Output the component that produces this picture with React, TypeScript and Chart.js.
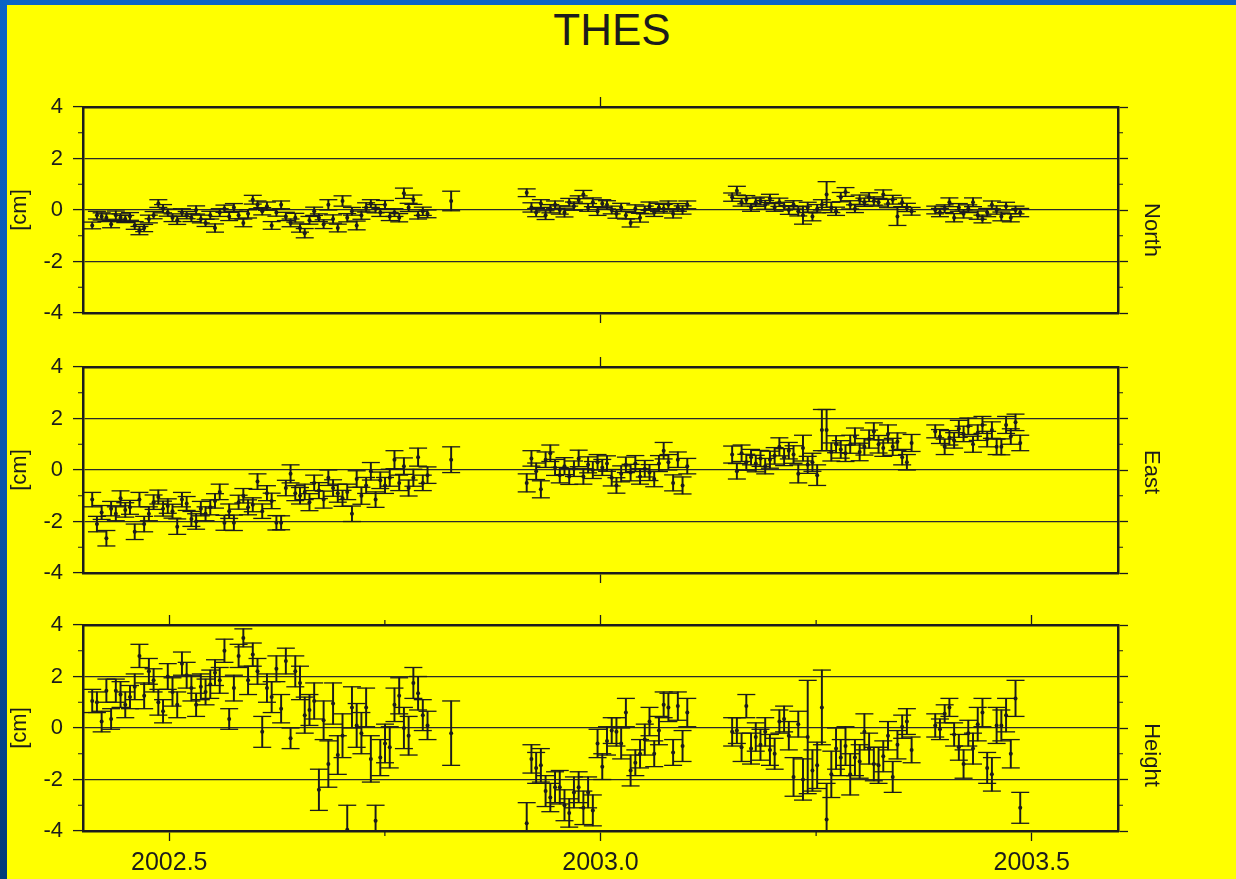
import React, { useEffect, useRef } from 'react';
import { Chart, registerables } from 'chart.js';

Chart.register(...registerables);

// ---------------- data ----------------
const chartTitle = 'THES';
const unitLabel = '[cm]';
const componentNames = ['North', 'East', 'Height'];

// epoch = 2002 + day / 365.25
const days = [
  // segment A
  150, 152, 154, 156, 158, 160, 162, 164, 166, 168, 170, 172,
  174, 176, 178, 180, 182, 184, 186, 188, 190, 192, 194, 196,
  198, 200, 202, 204, 206, 208, 210, 212, 214, 216, 218, 220,
  222, 224, 226, 228, 230, 232, 234, 236, 238, 240, 242, 244,
  246, 248, 250, 252, 254, 256, 258, 260, 262, 264, 266, 268,
  270, 272, 274, 276, 278, 280, 282, 284, 286, 288, 290, 292,
  // isolated
  302,
  // segment B
  334, 336, 338, 340, 342, 344, 346, 348, 350, 352, 354, 356,
  358, 360, 362, 364, 366, 368, 370, 372, 374, 376, 378, 380,
  382, 384, 386, 388, 390, 392, 394, 396, 398, 400, 402,
  // segment C
  421, 423, 425, 427, 429, 431, 433, 435, 437, 439, 441, 443,
  445, 447, 449, 451, 453, 455, 457, 459, 461, 463, 465, 467,
  469, 471, 473, 475, 477, 479, 481, 483, 485, 487, 489, 491,
  493, 495, 497,
  // segment D
  507, 509, 511, 513, 515, 517, 519, 521, 523, 525, 527, 529,
  531, 533, 535, 537, 539, 541, 543,
];

const north = [
  -0.6, -0.2, -0.25, -0.3, -0.55, -0.2, -0.3, -0.35, -0.25, -0.6, -0.8, -0.7,
  -0.35, -0.2, 0.25, 0.05, -0.1, -0.3, -0.4, -0.1, -0.2, -0.3, 0.0, -0.35,
  -0.5, -0.2, -0.7, -0.1, 0.05, -0.25, 0.1, -0.2, -0.5, -0.15, 0.4, 0.2,
  -0.05, 0.15, -0.6, -0.1, 0.2, -0.25, -0.5, -0.3, -0.7, -0.9, -0.4, -0.05,
  -0.3, -0.55, 0.2, -0.35, -0.7, 0.35, -0.3, -0.05, -0.6, -0.2, 0.1, 0.25,
  0.05, -0.1, 0.2, -0.25, -0.1, -0.3, 0.65, 0.1, 0.4, -0.2, -0.05, -0.15,
  0.35,
  0.67, 0.1, -0.1, 0.25, -0.2, 0.05, 0.2, 0.0, -0.1, 0.3, 0.15, 0.4,
  0.6, 0.1, 0.3, -0.05, 0.25, 0.2, 0.0, -0.15, 0.1, -0.2, -0.5, 0.05,
  -0.3, 0.0, 0.15, -0.1, 0.1, 0.05, 0.2, -0.15, 0.1, 0.0, 0.2,
  0.5, 0.75, 0.3, 0.4, 0.1, 0.3, 0.35, 0.2, 0.45, 0.1, 0.3, 0.15,
  0.0, 0.2, -0.05, -0.2, 0.1, -0.25, 0.05, 0.2, 0.6, 0.1, -0.05, 0.5,
  0.7, 0.2, 0.05, 0.4, 0.3, 0.5, 0.35, 0.3, 0.6, 0.25, 0.4, -0.25,
  0.3, 0.1, -0.05,
  0.0, -0.1, 0.05, 0.3, -0.3, 0.1, -0.15, 0.05, 0.3, -0.2, -0.35, -0.1,
  0.2, 0.0, -0.25, 0.15, -0.3, 0.0, -0.1,
];

const northErr = [
  0.13, 0.15, 0.14, 0.15, 0.14, 0.16, 0.15, 0.14, 0.15, 0.15, 0.16, 0.14,
  0.15, 0.14, 0.15, 0.16, 0.14, 0.15, 0.16, 0.15, 0.14, 0.15, 0.16, 0.15,
  0.14, 0.15, 0.16, 0.15, 0.14, 0.16, 0.15, 0.14, 0.15, 0.16, 0.17, 0.15,
  0.14, 0.16, 0.15, 0.14, 0.15, 0.16, 0.15, 0.17, 0.16, 0.18, 0.15, 0.16,
  0.15, 0.17, 0.2, 0.16, 0.15, 0.2, 0.16, 0.15, 0.17, 0.16, 0.18, 0.15,
  0.16, 0.15, 0.17, 0.16, 0.15, 0.16, 0.2, 0.16, 0.18, 0.15, 0.16, 0.15,
  0.38,
  0.15, 0.18, 0.16, 0.15, 0.17, 0.16, 0.15, 0.16, 0.17, 0.15, 0.16, 0.15,
  0.16, 0.15, 0.17, 0.16, 0.15, 0.16, 0.15, 0.17, 0.16, 0.15, 0.16, 0.15,
  0.17, 0.15, 0.16, 0.15, 0.16, 0.17, 0.15, 0.16, 0.15, 0.16, 0.15,
  0.16, 0.17, 0.15, 0.16, 0.15, 0.16, 0.15, 0.17, 0.16, 0.15, 0.16, 0.15,
  0.17, 0.16, 0.18, 0.35, 0.2, 0.17, 0.16, 0.2, 0.5, 0.2, 0.16, 0.18,
  0.17, 0.16, 0.15, 0.18, 0.16, 0.17, 0.16, 0.15, 0.18, 0.16, 0.17, 0.35,
  0.17, 0.16, 0.15,
  0.15, 0.16, 0.15, 0.17, 0.16, 0.15, 0.16, 0.15, 0.17, 0.16, 0.15, 0.16,
  0.15, 0.16, 0.17, 0.15, 0.16, 0.15, 0.16,
];

const east = [
  -1.15, -2.1, -1.65, -2.65, -1.5, -1.7, -1.1, -1.55, -1.45, -2.4, -1.15, -2.1,
  -1.7, -1.25, -1.05, -1.5, -1.4, -1.6, -2.2, -1.15, -1.3, -1.9, -2.0, -1.5,
  -1.7, -1.45, -1.2, -0.85, -2.05, -1.6, -2.05, -1.25, -1.0, -1.45, -1.35, -0.45,
  -1.6, -0.9, -1.2, -2.05, -2.05, -0.7, -0.15, -0.9, -1.0, -0.85, -1.25, -0.5,
  -0.8, -1.15, -0.3, -0.7, -0.9, -1.1, -0.85, -1.7, -0.35, -1.0, -0.6, -0.05,
  -1.15, -0.4, -0.6, -0.3, 0.4, -0.5, 0.15, -0.7, -0.3, 0.5, -0.5, -0.2,
  0.4,
  -0.5, 0.45, -0.05, -0.75, 0.4, 0.65, 0.1, -0.2, 0.15, -0.25, 0.05, 0.45,
  -0.25, 0.2, 0.0, 0.3, 0.1, 0.25, -0.3, -0.6, -0.15, 0.2, -0.1, 0.25,
  -0.25, 0.05, -0.1, -0.35, 0.25, 0.75, 0.3, -0.5, 0.4, -0.6, 0.15,
  0.6, -0.05, 0.65, 0.3, 0.5, 0.25, 0.45, 0.15, 0.4, 0.55, 0.9, 0.5,
  0.75, 0.6, -0.15, 0.85, 0.2, 0.3, -0.2, 1.55, 1.55, 0.7, 1.0, 0.8,
  0.65, 1.0, 1.3, 0.7, 0.9, 1.2, 1.5, 1.0, 0.85, 1.4, 0.9, 1.1,
  0.5, 0.3, 1.05,
  1.5, 1.3, 0.9, 1.25, 1.15, 1.6, 1.4, 1.7, 1.0, 1.45, 1.75, 1.2,
  1.55, 0.9, 0.9, 1.75, 1.3, 1.85, 1.05,
];

const eastErr = [
  0.28, 0.3, 0.27, 0.3, 0.28, 0.27, 0.29, 0.28, 0.27, 0.3, 0.28, 0.3,
  0.27, 0.28, 0.27, 0.29, 0.28, 0.27, 0.3, 0.28, 0.27, 0.29, 0.3, 0.28,
  0.27, 0.29, 0.28, 0.3, 0.29, 0.28, 0.3, 0.27, 0.28, 0.29, 0.27, 0.3,
  0.28, 0.29, 0.3, 0.28, 0.27, 0.3, 0.35, 0.29, 0.32, 0.3, 0.33, 0.3,
  0.31, 0.33, 0.3, 0.32, 0.35, 0.31, 0.3, 0.3, 0.32, 0.33, 0.31, 0.34,
  0.3, 0.32, 0.31, 0.33, 0.35, 0.3, 0.32, 0.31, 0.33, 0.35, 0.3, 0.32,
  0.5,
  0.35, 0.3, 0.32, 0.33, 0.3, 0.32, 0.31, 0.3, 0.33, 0.31, 0.3, 0.32,
  0.3, 0.31, 0.33, 0.3, 0.31, 0.3, 0.32, 0.3, 0.31, 0.3, 0.32, 0.31,
  0.3, 0.32, 0.31, 0.3, 0.31, 0.32, 0.3, 0.31, 0.3, 0.33, 0.3,
  0.33, 0.3, 0.32, 0.31, 0.3, 0.32, 0.31, 0.3, 0.33, 0.32, 0.35, 0.33,
  0.32, 0.34, 0.35, 0.5, 0.33, 0.35, 0.4, 0.8, 0.8, 0.35, 0.33, 0.34,
  0.32, 0.35, 0.33, 0.34, 0.32, 0.35, 0.33, 0.34, 0.32, 0.35, 0.33, 0.34,
  0.3, 0.3, 0.33,
  0.25, 0.27, 0.3, 0.28, 0.3, 0.33, 0.3, 0.32, 0.31, 0.3, 0.33, 0.3,
  0.32, 0.3, 0.31, 0.33, 0.3, 0.32, 0.3,
];

const height = [
  1.05, 1.0, 0.25, 1.45, 0.35, 1.45, 1.3, 0.9, 1.2, 1.6, 2.8, 1.25,
  2.2, 1.85, 1.0, 0.65, 2.0, 1.4, 0.9, 2.5, 2.05, 1.55, 0.9, 1.6,
  1.4, 1.7, 2.15, 1.85, 3.0, 0.35, 1.55, 2.8, 3.5, 1.85, 2.85, 2.2,
  -0.15, 1.55, 1.2, 2.3, 0.75, 2.6, -0.4, 2.2, 1.75, 0.5, 0.7, 1.05,
  -2.4, 0.3, -1.4, 0.95, -1.05, -0.3, -3.95, 0.8, 0.1, -0.2, 0.8, -1.2,
  -3.6, -1.15, -0.6, -0.75, 0.9, 1.25, 0.0, -0.3, 1.75, 1.35, 0.5, 0.1,
  -0.2,
  -3.7, -1.2, -1.55, -1.45, -2.45, -2.7, -2.3, -2.3, -3.0, -3.3, -2.5, -2.3,
  -3.1, -2.5, -3.2, -0.6, -1.5, -0.5, -0.1, -0.15, -0.6, 0.6, -1.65, -1.35,
  -1.0, -0.45, 0.25, -1.0, -0.1, 0.9, 0.8, -0.95, 0.85, -0.7, 0.6,
  -0.15, -0.1, -0.75, 0.85, -0.8, -0.35, -0.65, -0.15, -0.85, -1.0, 0.25, 0.35,
  -0.3, -1.9, 0.15, -2.0, -0.35, -1.65, -1.45, 0.8, -3.55, -1.8, -0.8, -1.15,
  -0.7, -1.8, -1.15, -1.3, -0.15, -0.8, -1.4, -1.45, -1.1, -0.3, -1.9, -0.65,
  0.05, 0.25, -0.85,
  0.1, -0.05, 0.55, 0.8, -0.25, -0.75, -1.4, -0.2, -0.8, 0.15, 0.6, -1.55,
  -1.8, 0.1, 0.1, 0.5, -1.0, 1.15, -3.1,
];

const heightErr = [
  0.45, 0.4, 0.4, 0.45, 0.4, 0.45, 0.5, 0.5, 0.45, 0.5, 0.45, 0.5,
  0.5, 0.45, 0.5, 0.45, 0.5, 0.55, 0.5, 0.45, 0.5, 0.5, 0.45, 0.5,
  0.5, 0.55, 0.5, 0.5, 0.45, 0.4, 0.5, 0.45, 0.35, 0.55, 0.45, 0.5,
  0.6, 0.55, 0.6, 0.5, 0.55, 0.5, 0.4, 0.6, 0.65, 0.7, 0.6, 0.7,
  0.8, 0.75, 0.9, 0.8, 0.75, 0.85, 0.95, 0.8, 0.85, 0.8, 0.75, 0.9,
  0.6, 0.7, 0.75, 0.8, 0.65, 0.7, 0.8, 0.75, 0.6, 0.65, 0.6, 0.55,
  1.25,
  0.8, 0.55, 0.6, 0.65, 0.6, 0.55, 0.6, 0.65, 0.6, 0.55, 0.6, 0.6,
  0.65, 0.6, 0.6, 0.55, 0.5, 0.55, 0.5, 0.55, 0.6, 0.55, 0.6, 0.5,
  0.55, 0.6, 0.55, 0.5, 0.55, 0.5, 0.55, 0.5, 0.55, 0.6, 0.55,
  0.55, 0.5, 0.55, 0.45, 0.6, 0.55, 0.6, 0.55, 0.6, 0.6, 0.45, 0.5,
  0.55, 0.75, 0.5, 0.8, 2.2, 0.8, 0.9, 1.45, 1.4, 0.9, 0.8, 0.7,
  0.75, 0.8, 0.7, 0.65, 0.7, 0.6, 0.65, 0.7, 0.6, 0.55, 0.6, 0.55,
  0.45, 0.5, 0.5,
  0.45, 0.4, 0.35, 0.35, 0.45, 0.5, 0.55, 0.5, 0.6, 0.65, 0.55, 0.6,
  0.65, 0.7, 0.6, 0.65, 0.55, 0.7, 0.6,
];

const xMajorTicks = [2002.5, 2003.0, 2003.5];
const xMinorTicks = [2002.75, 2003.25];
const xSparseTicks = [2003.0];
const yMajorTicks = [-4, -2, 0, 2, 4];
const yMinorTicks = [-3, -1, 1, 3];
const yGridValues = [-2, 0, 2];

// ---------------- layout / style ----------------
const X_MIN = 2002.4;
const X_MAX = 2003.6;
const Y_MIN = -4;
const Y_MAX = 4;
const PAGE_W = 1236;
const PAGE_H = 879;
const LEFT_W = 83;
const RIGHT_W = 118;
const TOP_H = 40;
const BOTTOM_H = 48;
const PLOT_H = 206;
const PANEL_TOPS = [107, 367, 625];
const SIDE_LABEL_X = 1152;
const SIDE_LABEL_Y = [230, 472, 755];
const INK = '#1c1c1c';
const GRID = '#2a2a2a';
const FONT = "'Liberation Sans', Arial, Helvetica, sans-serif";

type PanelProps = {
  top: number;
  values: number[];
  errors: number[];
  full: boolean;
};

function Panel({ top, values, errors, full }: PanelProps) {
  const ref = useRef<HTMLCanvasElement>(null);
  const h = TOP_H + PLOT_H + BOTTOM_H;

  useEffect(() => {
    const canvas = ref.current;
    if (!canvas) return;
    const n = Math.min(days.length, values.length, errors.length);
    const pts: any[] = [];
    const bars: any[] = [];
    const lo: any[] = [];
    const hi: any[] = [];
    for (let i = 0; i < n; i++) {
      const x = 2002 + days[i] / 365.25;
      const v = values[i];
      const e = errors[i];
      pts.push({ x, y: v });
      bars.push({ x, y: [v - e, v + e] });
      lo.push({ x, y: v - e });
      hi.push({ x, y: v + e });
    }
    const majorX = full ? xMajorTicks : xSparseTicks;
    const minorX = full ? xMinorTicks : [];

    const minorPlugin = {
      id: 'minorTicks',
      afterDraw(chart: any) {
        const { ctx, chartArea: a, scales } = chart;
        ctx.save();
        ctx.strokeStyle = INK;
        ctx.lineWidth = 1.2;
        ctx.beginPath();
        for (const v of yMinorTicks) {
          const py = scales.y.getPixelForValue(v);
          ctx.moveTo(a.left - 5, py);
          ctx.lineTo(a.left, py);
          ctx.moveTo(a.right, py);
          ctx.lineTo(a.right + 5, py);
        }
        for (const v of minorX) {
          const px = scales.x.getPixelForValue(v);
          ctx.moveTo(px, a.top - 5);
          ctx.lineTo(px, a.top);
          ctx.moveTo(px, a.bottom);
          ctx.lineTo(px, a.bottom + 5);
        }
        ctx.stroke();
        ctx.restore();
      },
    };

    const border = { display: true, color: INK, width: 2.5 };
    const hiddenTicks = { display: false };
    const tickGrid = {
      display: true,
      drawOnChartArea: false,
      drawTicks: true,
      tickLength: 10,
      tickColor: INK,
      tickWidth: 1.3,
      offset: false,
    };

    const chart = new Chart(canvas, {
      type: 'scatter',
      data: {
        datasets: [
          {
            type: 'scatter',
            data: pts,
            pointStyle: 'circle',
            pointRadius: 2,
            pointBackgroundColor: INK,
            pointBorderWidth: 0,
            clip: 0,
          } as any,
          {
            type: 'scatter',
            data: lo,
            pointStyle: 'line',
            pointRadius: 9,
            pointBorderColor: INK,
            pointBorderWidth: 1.3,
            clip: 0,
          } as any,
          {
            type: 'scatter',
            data: hi,
            pointStyle: 'line',
            pointRadius: 9,
            pointBorderColor: INK,
            pointBorderWidth: 1.3,
            clip: 0,
          } as any,
          {
            type: 'bar',
            data: bars,
            backgroundColor: INK,
            borderWidth: 0,
            barThickness: 1.3,
            grouped: false,
            clip: 0,
          } as any,
        ],
      },
      options: {
        animation: false,
        responsive: false,
        maintainAspectRatio: false,
        events: [],
        layout: { padding: 0 },
        plugins: {
          legend: { display: false },
          tooltip: { enabled: false },
          title: { display: false },
        },
        scales: {
          x: {
            type: 'linear',
            axis: 'x',
            position: 'bottom',
            min: X_MIN,
            max: X_MAX,
            offset: false,
            afterBuildTicks: (s: any) => {
              s.ticks = majorX.map((value) => ({ value }));
            },
            afterFit: (s: any) => {
              s.height = BOTTOM_H;
            },
            ticks: {
              display: full,
              autoSkip: false,
              maxRotation: 0,
              minRotation: 0,
              padding: 7,
              color: INK,
              font: { family: FONT, size: 25 },
              callback: (v: any) => Number(v).toFixed(1),
            },
            grid: tickGrid,
            border,
          },
          x2: {
            type: 'linear',
            axis: 'x',
            position: 'top',
            min: X_MIN,
            max: X_MAX,
            offset: false,
            afterBuildTicks: (s: any) => {
              s.ticks = majorX.map((value) => ({ value }));
            },
            afterFit: (s: any) => {
              s.height = TOP_H;
            },
            ticks: hiddenTicks,
            grid: tickGrid,
            border,
          },
          y: {
            type: 'linear',
            axis: 'y',
            position: 'left',
            min: Y_MIN,
            max: Y_MAX,
            afterBuildTicks: (s: any) => {
              s.ticks = yMajorTicks.map((value) => ({ value }));
            },
            afterFit: (s: any) => {
              s.width = LEFT_W;
            },
            ticks: {
              color: INK,
              padding: 10,
              font: { family: FONT, size: 22 },
              callback: (v: any) => String(v),
            },
            grid: {
              display: true,
              drawOnChartArea: true,
              drawTicks: true,
              tickLength: 10,
              lineWidth: 1.2,
              tickWidth: 1.3,
              tickColor: INK,
              color: (ctx: any) =>
                ctx.tick && yGridValues.includes(ctx.tick.value) ? GRID : 'rgba(0,0,0,0)',
            },
            border,
            title: {
              display: true,
              text: unitLabel,
              color: INK,
              font: { family: FONT, size: 22 },
              padding: { top: 7, bottom: 0 },
            },
          },
          y2: {
            type: 'linear',
            axis: 'y',
            position: 'right',
            min: Y_MIN,
            max: Y_MAX,
            afterBuildTicks: (s: any) => {
              s.ticks = yMajorTicks.map((value) => ({ value }));
            },
            afterFit: (s: any) => {
              s.width = RIGHT_W;
            },
            ticks: hiddenTicks,
            grid: {
              display: true,
              drawOnChartArea: false,
              drawTicks: true,
              tickLength: 10,
              tickWidth: 1.3,
              tickColor: INK,
            },
            border,
          },
        },
      } as any,
      plugins: [minorPlugin],
    });
    return () => chart.destroy();
  }, []);

  return (
    <canvas
      ref={ref}
      width={PAGE_W}
      height={h}
      style={{ position: 'absolute', left: 0, top: top - TOP_H, width: PAGE_W, height: h }}
    />
  );
}

export default function App() {
  const series = [north, east, height];
  const errs = [northErr, eastErr, heightErr];
  return (
    <div
      style={{
        position: 'absolute',
        left: 0,
        top: 0,
        width: PAGE_W,
        height: PAGE_H,
        overflow: 'hidden',
        background: 'linear-gradient(180deg, #0b63c6 0%, #0a55ab 55%, #023a78 100%)',
      }}
    >
      <div
        style={{
          position: 'absolute',
          left: 7,
          top: 5,
          right: 0,
          bottom: 0,
          background: '#ffff00',
        }}
      />
      <div
        style={{
          position: 'absolute',
          left: 0,
          top: 8,
          width: 1224,
          textAlign: 'center',
          fontFamily: FONT,
          fontSize: 44,
          lineHeight: '44px',
          color: INK,
        }}
      >
        {chartTitle}
      </div>
      {componentNames.map((name, i) => (
        <Panel
          key={name}
          top={PANEL_TOPS[i]}
          values={series[i]}
          errors={errs[i]}
          full={i === componentNames.length - 1}
        />
      ))}
      {componentNames.map((name, i) => (
        <div
          key={'label-' + name}
          style={{
            position: 'absolute',
            left: SIDE_LABEL_X,
            top: SIDE_LABEL_Y[i],
            transform: 'translate(-50%, -50%) rotate(90deg)',
            fontFamily: FONT,
            fontSize: 22,
            lineHeight: '22px',
            color: INK,
            whiteSpace: 'nowrap',
          }}
        >
          {name}
        </div>
      ))}
    </div>
  );
}
